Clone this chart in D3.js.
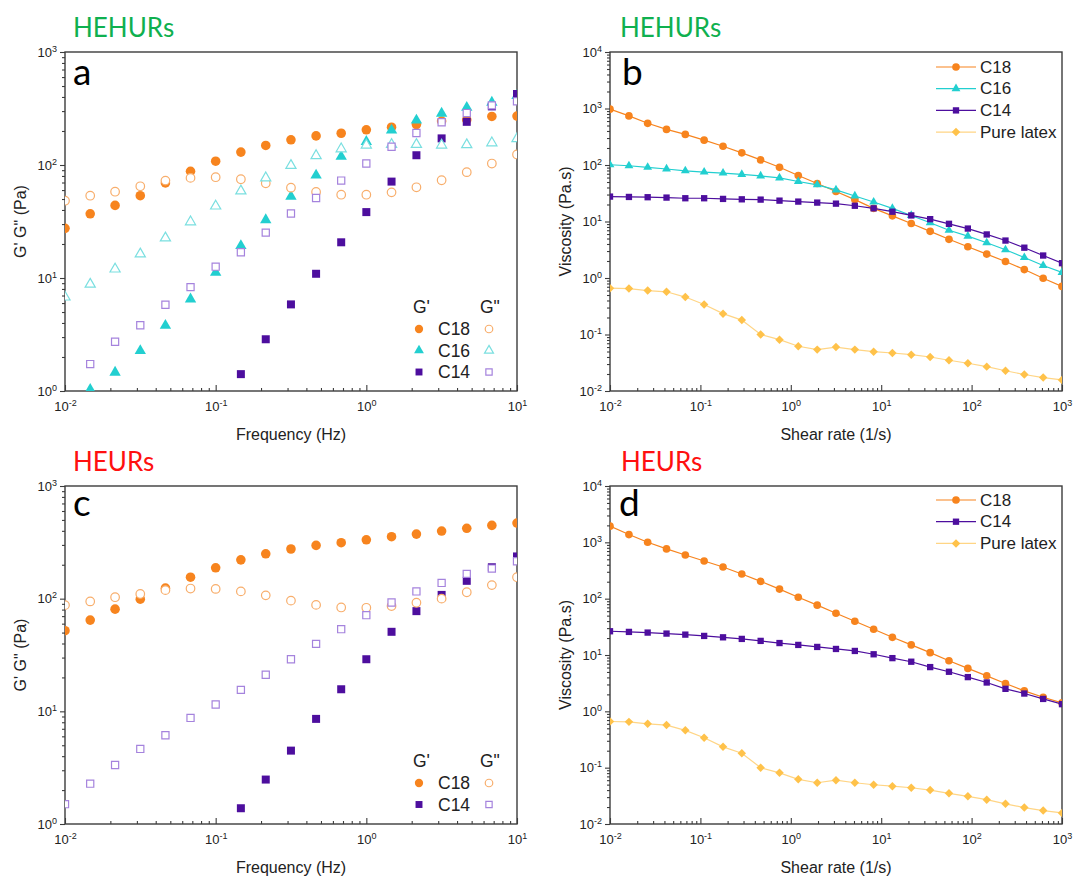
<!DOCTYPE html>
<html>
<head>
<meta charset="utf-8">
<script src="https://cdn.jsdelivr.net/npm/d3@7"></script>
<style>
  body { margin: 0; background: #fff; }
  svg { display: block; }
</style>
</head>
<body>
<svg id="fig" width="1075" height="879"></svg>
<script>
// ---------- data ----------
// oscillatory frequency sweep (Hz)
const frequency = [0.01, 0.0147, 0.0215, 0.0316, 0.0464, 0.0681, 0.1, 0.147, 0.215, 0.316, 0.464, 0.681, 1, 1.47, 2.15, 3.16, 4.64, 6.81, 10];

// HEHURs: storage (G') and loss (G") moduli, Pa
const hehurC18Storage = [27.5, 37, 43.9, 53.5, 69.4, 88, 108, 130, 149, 167, 181, 191, 205, 216, 228, 245, 251, 269, 271];
const hehurC18Loss    = [48.3, 53.5, 58, 64.8, 72.8, 76.9, 78, 74.8, 68.9, 63, 57.7, 54.6, 54.6, 57.3, 63.5, 73.3, 86.4, 103, 124];
const hehurC16Storage = [null, 1.03, 1.46, 2.27, 3.8, 6.5, 11.2, 19.3, 32.7, 52.8, 81.2, 119, 161, 203, 249, 286, 323, 358, 411];
const hehurC16Loss    = [6.78, 8.8, 12.0, 16.3, 22.6, 31.4, 43.3, 58.9, 76.9, 99, 121, 139, 150, 152, 152, 150, 151, 157, 171];
const hehurC14Storage = [null, null, null, null, null, null, null, 1.41, 2.87, 5.84, 10.9, 20.7, 38.3, 71.3, 122, 172, 241, 330, 425];
const hehurC14Loss    = [null, 1.73, 2.73, 3.82, 5.8, 8.3, 12.6, 16.9, 25.2, 37.2, 51, 72.8, 103, 145, 192, 239, 288, 337, 366];

// HEURs: storage and loss moduli, Pa
const heurC18Storage = [52, 64.5, 80.7, 99, 124, 155, 188, 221, 250, 276, 297, 314, 333, 355, 374, 398, 421, 447, 469];
const heurC18Loss    = [87.6, 94.5, 103, 110, 119, 123, 122, 116, 107, 96, 88, 83.5, 83, 86, 92, 100, 114, 132, 155];
const heurC14Storage = [null, null, null, null, null, null, null, 1.38, 2.48, 4.48, 8.57, 15.7, 29, 50.8, 77.5, 108, 144, 190, 237];
const heurC14Loss    = [1.5, 2.28, 3.34, 4.64, 6.13, 8.74, 11.5, 15.5, 21.1, 29, 39.7, 53.6, 71.4, 92.5, 116, 138, 166, 185, 215];

// steady shear flow (1/s)
const shearRate = [0.01, 0.0162, 0.0261, 0.0422, 0.0681, 0.11, 0.178, 0.287, 0.464, 0.75, 1.21, 1.96, 3.16, 5.11, 8.25, 13.3, 21.5, 34.8, 56.2, 90.9, 147, 237, 383, 619, 1000];

// viscosity, Pa.s
const hehurViscC18 = [973, 739, 547, 427, 348, 275, 215, 164, 123, 91, 65, 47, 34, 24.4, 17.1, 12.6, 9.2, 6.7, 4.84, 3.58, 2.65, 1.96, 1.41, 0.99, 0.71];
const hehurViscC16 = [101, 97, 91, 85, 79, 75, 72, 68, 64, 59, 51, 44.6, 36.3, 28.3, 22.1, 17.1, 12.8, 9.5, 7.0, 5.5, 4.2, 3.16, 2.3, 1.66, 1.26];
const hehurViscC14 = [27.6, 27.2, 26.9, 26.5, 25.8, 25.8, 25.1, 24.7, 24.4, 23.4, 22.5, 21.6, 20.7, 19.0, 17.1, 14.9, 12.8, 11.0, 9.1, 7.5, 5.9, 4.6, 3.44, 2.5, 1.83];
const heurViscC18  = [1936, 1374, 1004, 764, 597, 467, 365, 274, 203, 148, 106, 76.7, 55.2, 39.8, 28.6, 20.6, 15.1, 11.0, 7.9, 5.78, 4.27, 3.12, 2.31, 1.78, 1.41];
const heurViscC14  = [26.4, 25.7, 25.0, 24.0, 23.0, 21.8, 20.6, 19.3, 17.8, 16.3, 15.1, 13.9, 12.8, 11.8, 10.3, 8.8, 7.6, 6.1, 5.04, 4.05, 3.25, 2.51, 2.07, 1.66, 1.34];
const latexViscosity = [0.66, 0.65, 0.60, 0.57, 0.46, 0.34, 0.234, 0.18, 0.10, 0.081, 0.062, 0.054, 0.060, 0.054, 0.0497, 0.047, 0.044, 0.040, 0.035, 0.031, 0.027, 0.0228, 0.0196, 0.0173, 0.0157];

// axis ticks (decades)
const frequencyTicks = [0.01, 0.1, 1, 10];
const modulusTicks   = [1, 10, 100, 1000];
const shearTicks     = [0.01, 0.1, 1, 10, 100, 1000];
const viscosityTicks = [0.01, 0.1, 1, 10, 100, 1000, 10000];

// ---------- styling ----------
const COL = {
  c18: "#F7841E", c18Light: "#F8AE6C",
  c16: "#22CFD0", c16Light: "#7ADFE0",
  c14: "#4D0E9E", c14Light: "#A583DD",
  latex: "#FFC24A", latexLine: "#FFD585",
  axis: "#3c3c3c", green: "#0FB04F", red: "#FF1010"
};
const TICK_FONT = "'Liberation Sans', Arial, sans-serif";
const HEAD_FONT = "Lato, 'Open Sans', sans-serif";

const svg = d3.select("#fig");
svg.append("rect").attr("width", 1075).attr("height", 879).attr("fill", "#fff");

function minorTicks(majors) {
  const out = [];
  for (let i = 0; i < majors.length - 1; i++)
    for (let k = 2; k <= 9; k++) out.push(majors[i] * k);
  return out;
}

function powerLabel(sel) {
  sel.each(function (d) {
    const t = d3.select(this);
    const e = Math.round(Math.log10(d));
    t.text(null);
    t.append("tspan").text("10");
    t.append("tspan").attr("dy", "-0.55em").attr("font-size", "9px").text(e);
  });
}

function symbolPath(shape, size) {
  const types = { circle: d3.symbolCircle, triangle: d3.symbolTriangle, square: d3.symbolSquare, diamond: d3.symbolSquare };
  return d3.symbol().type(types[shape]).size(size)();
}

function drawMarkers(g, xs, ys, x, y, st) {
  const pts = xs.map((v, i) => [v, ys[i]]).filter(p => p[1] != null);
  g.append("g").selectAll("path").data(pts).join("path")
    .attr("d", symbolPath(st.shape, st.size))
    .attr("transform", p => `translate(${x(p[0])},${y(p[1])})` + (st.shape === "diamond" ? " rotate(45)" : ""))
    .attr("fill", st.fill)
    .attr("stroke", st.stroke || "none")
    .attr("stroke-width", st.strokeWidth || 0);
}

function drawLine(g, xs, ys, x, y, color) {
  const pts = xs.map((v, i) => [v, ys[i]]).filter(p => p[1] != null);
  g.append("path").datum(pts)
    .attr("d", d3.line().x(p => x(p[0])).y(p => y(p[1])))
    .attr("fill", "none").attr("stroke", color).attr("stroke-width", 1.2);
}

function makePanel(p) {
  const g = svg.append("g");
  const x = d3.scaleLog().domain(p.xDomain).range([p.left, p.right]);
  const y = d3.scaleLog().domain(p.yDomain).range([p.bottom, p.top]);

  // heading and panel letter
  g.append("text").attr("x", p.headX).attr("y", p.headY)
    .attr("font-family", HEAD_FONT).attr("font-size", 26).attr("fill", p.headColor).text(p.heading);
  g.append("text").attr("x", p.letterX).attr("y", p.letterY)
    .attr("font-family", HEAD_FONT).attr("font-size", 37).attr("fill", "#000").text(p.letter);

  // y axis: outward ticks
  const yAx = g.append("g").attr("transform", `translate(${p.left},0)`)
    .call(d3.axisLeft(y).tickValues(p.yTicks).tickSize(5).tickPadding(3));
  yAx.selectAll(".tick text").attr("font-family", TICK_FONT).attr("font-size", 13).attr("fill", "#222").call(powerLabel);
  g.append("g").attr("transform", `translate(${p.left},0)`)
    .call(d3.axisLeft(y).tickValues(minorTicks(p.yTicks)).tickSize(3).tickFormat(""));

  // x axis: inward ticks
  const xAx = g.append("g").attr("transform", `translate(0,${p.bottom})`)
    .call(d3.axisBottom(x).tickValues(p.xTicks).tickSizeInner(-6).tickSizeOuter(0).tickPadding(11));
  xAx.selectAll(".tick text").attr("font-family", TICK_FONT).attr("font-size", 13).attr("fill", "#222").call(powerLabel);
  g.append("g").attr("transform", `translate(0,${p.bottom})`)
    .call(d3.axisBottom(x).tickValues(minorTicks(p.xTicks)).tickSizeInner(-3).tickSizeOuter(0).tickFormat(""));

  g.selectAll(".domain").remove();
  g.selectAll(".tick line").attr("stroke", COL.axis).attr("stroke-width", 1.1);

  // frame
  g.append("rect").attr("x", p.left).attr("y", p.top)
    .attr("width", p.right - p.left).attr("height", p.bottom - p.top)
    .attr("fill", "none").attr("stroke", COL.axis).attr("stroke-width", 1.4);

  // axis titles
  g.append("text").attr("x", (p.left + p.right) / 2).attr("y", p.bottom + 43)
    .attr("text-anchor", "middle").attr("dominant-baseline", "central")
    .attr("font-family", TICK_FONT).attr("font-size", 16).attr("fill", "#222").text(p.xTitle);
  g.append("text").attr("transform", `translate(${p.yTitleX},${(p.top + p.bottom) / 2}) rotate(-90)`)
    .attr("text-anchor", "middle").attr("dominant-baseline", "central")
    .attr("font-family", TICK_FONT).attr("font-size", 16).attr("fill", "#222").text(p.yTitle);

  // clipped data layer
  const clipId = "clip-" + p.letter;
  g.append("clipPath").attr("id", clipId).append("rect")
    .attr("x", p.left).attr("y", p.top).attr("width", p.right - p.left).attr("height", p.bottom - p.top);
  const data = g.append("g").attr("clip-path", `url(#${clipId})`);
  return { g, x, y, data };
}

// marker styles
const filled = (shape, color, size) => ({ shape, size, fill: color });
const hollow = (shape, color, size) => ({ shape, size, fill: "#fff", stroke: color, strokeWidth: 1.2 });

// ---------- frequency sweep panels ----------
function modulusPanel(opt) {
  const P = makePanel(Object.assign({
    xDomain: [0.01, 10], yDomain: [1, 1000], xTicks: frequencyTicks, yTicks: modulusTicks,
    xTitle: "Frequency (Hz)", yTitle: "G' G\" (Pa)", left: 65, right: 517, yTitleX: 20
  }, opt));
  opt.series.forEach(s => drawMarkers(P.data, frequency, s.storage, P.x, P.y, filled(s.shape, s.color, s.size)));
  opt.series.forEach(s => drawMarkers(P.data, frequency, s.loss, P.x, P.y, hollow(s.shape, s.light, s.size * 0.8)));

  // legend
  const lg = P.g.append("g").attr("font-family", TICK_FONT).attr("fill", "#222");
  lg.append("text").attr("x", 413).attr("y", opt.legendY).attr("dominant-baseline", "central").attr("font-size", 17.5).text("G'");
  lg.append("text").attr("x", 480).attr("y", opt.legendY).attr("dominant-baseline", "central").attr("font-size", 17.5).text("G\"");
  opt.series.forEach((s, i) => {
    const ry = opt.legendY + 22 + i * 21.5;
    lg.append("path").attr("d", symbolPath(s.shape, s.size * 0.75)).attr("transform", `translate(419,${ry})`).attr("fill", s.color);
    lg.append("path").attr("d", symbolPath(s.shape, s.size * 0.62)).attr("transform", `translate(489,${ry})`)
      .attr("fill", "#fff").attr("stroke", s.light).attr("stroke-width", 1.2);
    lg.append("text").attr("x", 438).attr("y", ry).attr("dominant-baseline", "central").attr("font-size", 17.5).text(s.name);
  });
}

// ---------- flow curve panels ----------
function viscosityPanel(opt) {
  const P = makePanel(Object.assign({
    xDomain: [0.01, 1000], yDomain: [0.01, 10000], xTicks: shearTicks, yTicks: viscosityTicks,
    xTitle: "Shear rate (1/s)", yTitle: "Viscosity (Pa.s)", left: 610, right: 1062, yTitleX: 565
  }, opt));
  opt.series.forEach(s => {
    drawLine(P.data, shearRate, s.values, P.x, P.y, s.line);
    drawMarkers(P.data, shearRate, s.values, P.x, P.y, filled(s.shape, s.color, s.size));
  });
  const lg = P.g.append("g").attr("font-family", TICK_FONT).attr("fill", "#222");
  opt.series.forEach((s, i) => {
    const ry = opt.legendY + i * 21.7;
    lg.append("line").attr("x1", 936).attr("x2", 976).attr("y1", ry).attr("y2", ry).attr("stroke", s.line).attr("stroke-width", 1.2);
    lg.append("path").attr("d", symbolPath(s.shape, s.size))
      .attr("transform", `translate(956,${ry})` + (s.shape === "diamond" ? " rotate(45)" : "")).attr("fill", s.color);
    lg.append("text").attr("x", 980).attr("y", ry).attr("dominant-baseline", "central").attr("font-size", 17).text(s.name);
  });
}

const viscC18 = { name: "C18", shape: "circle", color: COL.c18, line: COL.c18, size: 46 };
const viscC16 = { name: "C16", shape: "triangle", color: COL.c16, line: COL.c16, size: 34 };
const viscC14 = { name: "C14", shape: "square", color: COL.c14, line: COL.c14, size: 40 };
const viscLatex = { name: "Pure latex", shape: "diamond", color: COL.latex, line: COL.latexLine, size: 36 };

modulusPanel({
  top: 52, bottom: 391, letter: "a", letterX: 73, letterY: 85,
  heading: "HEHURs", headColor: COL.green, headX: 73, headY: 37, legendY: 307,
  series: [
    { name: "C18", shape: "circle", color: COL.c18, light: COL.c18Light, size: 72, storage: hehurC18Storage, loss: hehurC18Loss },
    { name: "C16", shape: "triangle", color: COL.c16, light: COL.c16Light, size: 56, storage: hehurC16Storage, loss: hehurC16Loss },
    { name: "C14", shape: "square", color: COL.c14, light: COL.c14Light, size: 64, storage: hehurC14Storage, loss: hehurC14Loss }
  ]
});

viscosityPanel({
  top: 52, bottom: 391, letter: "b", letterX: 622, letterY: 85,
  heading: "HEHURs", headColor: COL.green, headX: 620, headY: 37, legendY: 67,
  series: [
    Object.assign({ values: hehurViscC18 }, viscC18),
    Object.assign({ values: hehurViscC16 }, viscC16),
    Object.assign({ values: hehurViscC14 }, viscC14),
    Object.assign({ values: latexViscosity }, viscLatex)
  ]
});

modulusPanel({
  top: 486, bottom: 824, letter: "c", letterX: 73, letterY: 516,
  heading: "HEURs", headColor: COL.red, headX: 73, headY: 471, legendY: 761,
  series: [
    { name: "C18", shape: "circle", color: COL.c18, light: COL.c18Light, size: 72, storage: heurC18Storage, loss: heurC18Loss },
    { name: "C14", shape: "square", color: COL.c14, light: COL.c14Light, size: 64, storage: heurC14Storage, loss: heurC14Loss }
  ]
});

viscosityPanel({
  top: 486, bottom: 824, letter: "d", letterX: 619, letterY: 516,
  heading: "HEURs", headColor: COL.red, headX: 621, headY: 471, legendY: 500,
  series: [
    Object.assign({ values: heurViscC18 }, viscC18),
    Object.assign({ values: heurViscC14 }, viscC14),
    Object.assign({ values: latexViscosity }, viscLatex)
  ]
});
</script>
</body>
</html>
